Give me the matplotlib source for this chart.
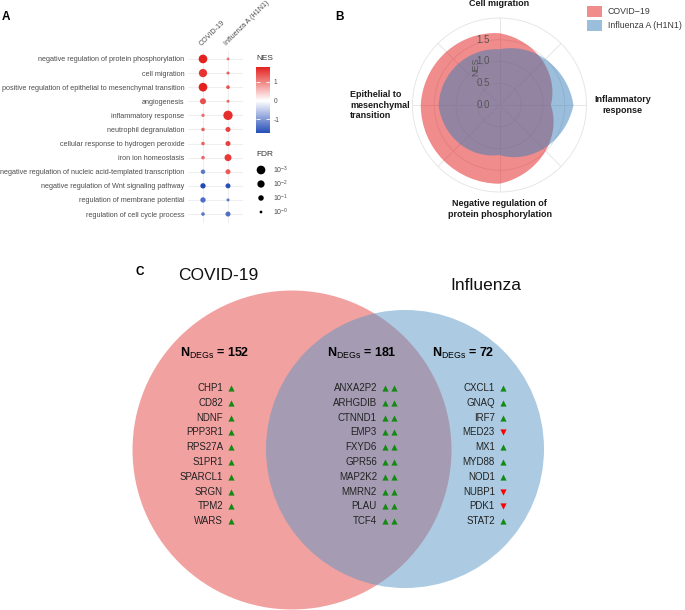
import numpy as np
import matplotlib
matplotlib.use("Agg")
import matplotlib.pyplot as plt
import matplotlib.path as mpath
import matplotlib.patches as mpatches
from matplotlib.colors import LinearSegmentedColormap, Normalize
from matplotlib.transforms import ScaledTranslation

plt.rcParams['font.family'] = ['Liberation Sans', 'DejaVu Sans']
plt.rcParams['mathtext.fontset'] = 'custom'
plt.rcParams['mathtext.rm'] = 'Liberation Sans'
plt.rcParams['mathtext.bf'] = 'Liberation Sans:bold'
plt.rcParams['mathtext.it'] = 'Liberation Sans:italic'

# ---- panel A data: GO terms, NES and FDR per dataset
terms = [
    "negative regulation of protein phosphorylation",
    "cell migration",
    "positive regulation of epithelial to mesenchymal transition",
    "angiogenesis",
    "inflammatory response",
    "neutrophil degranulation",
    "cellular response to hydrogen peroxide",
    "iron ion homeostasis",
    "negative regulation of nucleic acid-templated transcription",
    "negative regulation of Wnt signaling pathway",
    "regulation of membrane potential",
    "regulation of cell cycle process",
]
datasets = ["COVID-19", "Influenza A (H1N1)"]
nes_covid = [1.81, 1.65, 1.82, 1.45, 1.18, 1.30, 1.28, 1.25, -1.30, -1.75, -1.40, -1.35]
nes_flu = [1.15, 1.28, 1.40, 1.20, 1.70, 1.55, 1.55, 1.60, 1.35, -1.70, -1.30, -1.40]
fdr_covid = [1e-3, 2e-3, 1e-3, 0.056, 0.7, 0.6, 0.6, 0.6, 0.28, 0.12, 0.12, 0.6]
fdr_flu = [0.95, 0.85, 0.55, 0.85, 3e-4, 0.17, 0.17, 0.015, 0.17, 0.17, 0.85, 0.17]
fdr_legend = [1e-3, 1e-2, 1e-1, 1e0]

# ---- panel B data: radar of NES
radar_axes = ["Cell migration", "Inflammatory\nresponse",
              "Negative regulation of\nprotein phosphorylation",
              "Epithelial to\nmesenchymal\ntransition"]
radar_covid = [1.65, 1.18, 1.81, 1.81]
radar_flu = [1.28, 1.70, 1.15, 1.40]
radar_ticks = [0.0, 0.5, 1.0, 1.5]

# ---- panel C data: Venn of DEGs
n_covid_only, n_shared, n_flu_only = 152, 181, 72
genes_covid = ["CHP1", "CD82", "NDNF", "PPP3R1", "RPS27A", "S1PR1", "SPARCL1", "SRGN", "TPM2", "WARS"]
genes_shared = ["ANXA2P2", "ARHGDIB", "CTNND1", "EMP3", "FXYD6", "GPR56", "MAP2K2", "MMRN2", "PLAU", "TCF4"]
genes_flu = ["CXCL1", "GNAQ", "IRF7", "MED23", "MX1", "MYD88", "NOD1", "NUBP1", "PDK1", "STAT2"]
dir_covid = [["up"]] * 10
dir_shared = [["up", "up"]] * 10
dir_flu = [["up"], ["up"], ["up"], ["down"], ["up"], ["up"], ["up"], ["down"], ["down"], ["up"]]

W, H = 685, 610
fig = plt.figure(figsize=(W / 100, H / 100), dpi=100)


def box(x0, y0, x1, y1):
    # pixel box (top-left origin) -> figure fraction
    return [x0 / W, 1 - y1 / H, (x1 - x0) / W, (y1 - y0) / H]


def dot_size(fdr):
    return 4 + 11.7 * -np.log10(np.asarray(fdr))


grey = '#4D4D4D'

# ================= Panel A =================
ax_a = fig.add_axes(box(188, 50.5, 243, 222.5))
rows = np.arange(len(terms))
cmap = LinearSegmentedColormap.from_list('nes', ['#1B45B5', 'white', '#E3211E'])
all_nes = np.array(nes_covid + nes_flu)
m = np.abs(all_nes).max()
norm = Normalize(-m, m)
for j, (nes, fdr) in enumerate([(nes_covid, fdr_covid), (nes_flu, fdr_flu)]):
    ax_a.scatter(np.full(len(terms), j), rows, s=dot_size(fdr), c=nes,
                 cmap=cmap, norm=norm, linewidths=0, zorder=3)
ax_a.set_xlim(-0.6, 1.6)
ax_a.set_ylim(len(terms) - 0.4, -0.6)
ax_a.set_yticks(rows, terms)
ax_a.set_xticks([0, 1], datasets)
ax_a.xaxis.tick_top()
for lab in ax_a.get_xticklabels():
    lab.set(rotation=45, ha='left', va='bottom', rotation_mode='anchor', fontsize=5.1, color=grey)
for lab in ax_a.get_yticklabels():
    lab.set(fontsize=5.2, color=grey)
ax_a.tick_params(length=0, pad=2.5)
ax_a.grid(color='#EBEBEB', linewidth=0.6)
ax_a.set_axisbelow(True)
for sp in ax_a.spines.values():
    sp.set_visible(False)

# NES colourbar
cax = fig.add_axes(box(256, 66.7, 270, 133.3))
sm = plt.cm.ScalarMappable(norm=norm, cmap=cmap)
cb = fig.colorbar(sm, cax=cax, boundaries=np.linspace(all_nes.min(), all_nes.max(), 200),
                  ticks=[-1, 0, 1])
cb.outline.set_visible(False)
cb.set_ticklabels(['-1', '0', '1'])
cax.yaxis.set_ticks_position('both')
cax.tick_params(direction='in', color='white', length=2.8, width=0.6,
                labelsize=4.8, labelcolor=grey, pad=2.5, labelleft=False, labelright=True)
fig.text(256 / W, 1 - 58 / H, "NES", fontsize=6, color='#333333', va='center')

# ================= Panel B =================
ax_b = fig.add_axes(box(412.5, 18, 586.5, 192), projection='polar')
ax_b.set_theta_zero_location('N')
ax_b.set_theta_direction(-1)
theta = np.arange(len(radar_axes)) * 2 * np.pi / len(radar_axes)
handles = []
for vals, color, label in [(radar_covid, '#E41A1C', 'COVID\u221219'),
                           (radar_flu, '#377EB8', 'Influenza A (H1N1)')]:
    verts = np.column_stack([np.append(theta, 2 * np.pi), np.append(vals, vals[0])])
    path = mpath.Path(verts, _interpolation_steps=80)
    patch = mpatches.PathPatch(path, facecolor=color, alpha=0.5, edgecolor='none', label=label)
    ax_b.add_patch(patch)
    handles.append(patch)
ax_b.set_ylim(0, 2.0)
ax_b.set_xticks(theta, [''] * len(theta))
ax_b.set_xticks(np.arange(8) * np.pi / 4, minor=True)
ax_b.xaxis.grid(True, which='both', color='#E3E3E3', linewidth=0.6)
ax_b.set_yticks([0.5, 1.0, 1.5])
ax_b.set_yticklabels([])
ax_b.yaxis.grid(True, color='#E3E3E3', linewidth=0.6)
ax_b.spines['polar'].set_color('#E3E3E3')
ax_b.spines['polar'].set_linewidth(0.6)
ax_b.tick_params(axis='x', which='major', length=3, width=0.5, color='#333333', direction='out')
ax_b.tick_params(axis='x', which='minor', length=0)
ax_b.tick_params(axis='y', length=0)
ax_b.set_axisbelow(True)

label_pos = [(2.34, 'center', 'center'), (2.17, 'left', 'center'),
             (2.39, 'center', 'center'), (2.06, 'right', 'center')]
for t, lab, (r, ha, va) in zip(theta, radar_axes, label_pos):
    ax_b.text(t, r, lab, ha=ha, va=va, multialignment='left' if ha == 'right' else 'center',
              fontsize=6.5, fontweight='bold', color='#1a1a1a', linespacing=1.25)

off = ScaledTranslation(-9.5 / 100, 0, fig.dpi_scale_trans)
for r in radar_ticks:
    ax_b.text(0, r, f"{r:.1f}", transform=ax_b.transData + off, ha='right', va='center',
              fontsize=7, color='#555555')
ax_b.text(0, 0.87, "NES", rotation=90, ha='center', va='center', fontsize=6.5, color='#555555',
          transform=ax_b.transData + ScaledTranslation(-24 / 100, 0, fig.dpi_scale_trans))

fig.legend(handles=handles, loc='upper left', bbox_to_anchor=(587 / W, 1 - 6 / H),
           frameon=False, fontsize=6.3, handlelength=1.7, handleheight=1.6,
           handletextpad=0.7, labelspacing=0.3, borderpad=0, borderaxespad=0,
           labelcolor='#3a3a3a')

# ================= overlay: letters, FDR legend, Venn =================
ov = fig.add_axes([0, 0, 1, 1])
ov.set_xlim(0, W)
ov.set_ylim(H, 0)
ov.axis('off')

for x, y, s in [(6, 17, "A"), (340, 17, "B"), (140, 272, "C")]:
    ov.text(x, y, s, fontsize=8.5, fontweight='bold', ha='center', va='center')

# FDR legend
ov.text(256, 155, "FDR", fontsize=6, color='#333333', va='center')
key_y = 170 + 14 * np.arange(len(fdr_legend))
ov.scatter(np.full(len(fdr_legend), 261), key_y, s=dot_size(fdr_legend), c='black', linewidths=0)
for f, y in zip(fdr_legend, key_y):
    ov.text(273, y, rf"$10^{{-{int(round(-np.log10(f)))}}}$", fontsize=5, color=grey, va='center')

# Venn circles, radius from set size
k = 8.74
ov.add_patch(mpatches.Circle((292, 450), k * np.sqrt(n_covid_only + n_shared),
                             facecolor='#E64545', alpha=0.5, edgecolor='none'))
ov.add_patch(mpatches.Circle((405, 449), k * np.sqrt(n_flu_only + n_shared),
                             facecolor='#5A98C6', alpha=0.5, edgecolor='none'))
ov.text(218, 276, "COVID-19", fontsize=12.5, ha='center', va='center', color='#111111')
ov.text(486, 286, "Influenza", fontsize=12.5, ha='center', va='center', color='#111111')

for x, n in [(215, n_covid_only), (361.5, n_shared), (463, n_flu_only)]:
    ov.text(x, 353, r"$\mathbf{N}_{\mathrm{DEGs}}$" + f" = {n}", fontsize=9,
            fontweight='bold', ha='center', va='center')

gene_y = 388 + 14.8 * np.arange(10)
for genes, dirs, xr in [(genes_covid, dir_covid, 223), (genes_shared, dir_shared, 377),
                        (genes_flu, dir_flu, 495)]:
    for g, d, y in zip(genes, dirs, gene_y):
        ov.text(xr, y, g, fontsize=7, ha='right', va='center', color='#222222')
        for i, dd in enumerate(d):
            ov.scatter(xr + 8 + 9.5 * i, y, marker='^' if dd == 'up' else 'v', s=20,
                       c='#138A13' if dd == 'up' else '#FF0000', linewidths=0)

fig.savefig("out.png", dpi=100)
